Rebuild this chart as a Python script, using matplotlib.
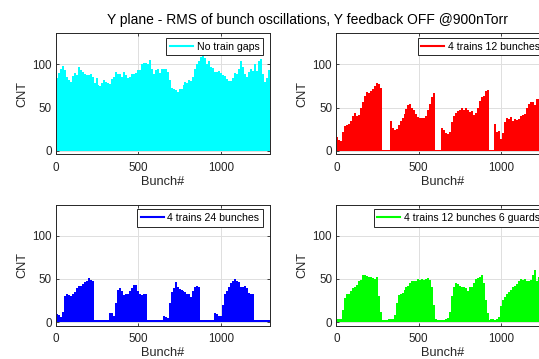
import matplotlib
matplotlib.use('Agg')
import matplotlib.pyplot as plt
from matplotlib.lines import Line2D
import numpy as np

plt.rcParams['font.family'] = ['Liberation Sans', 'DejaVu Sans']

# bunch bins (12 bunches per bin, 1296 bunches)
bin_width = 12
n_bunches = 1296
bin_start = np.arange(0, n_bunches, bin_width)

no_gaps = [84, 90, 95, 98, 93, 85, 82, 80, 87, 90,
           88, 97, 94, 91, 89, 88, 88, 89, 85, 78,
           84, 76, 75, 79, 82, 80, 78, 77, 83, 86,
           91, 89, 89, 86, 91, 88, 84, 86, 89, 89,
           90, 93, 94, 100, 102, 102, 100, 105, 95, 89,
           94, 95, 90, 95, 95, 95, 91, 82, 73, 72,
           70, 68, 72, 71, 76, 80, 78, 82, 81, 86,
           95, 100, 104, 109, 111, 108, 101, 104, 97, 96,
           91, 91, 92, 90, 88, 87, 83, 81, 81, 84,
           90, 89, 95, 104, 97, 89, 86, 91, 95, 92,
           100, 92, 104, 106, 89, 80, 84, 94]

trains12 = [16, 13, 11, 22, 29, 30, 31, 34, 40, 44, 40, 42, 50, 56, 63, 68, 67, 69, 72, 75, 79, 77, 73,
            1.5, 1.5, 1.5, 1.5,
            34, 27, 24, 25, 30, 35, 38, 43, 48, 53, 54, 50, 47, 43, 39, 38, 38, 38, 40, 47, 54, 62, 67,
            1.5, 1.5, 1.5,
            26, 24, 21, 19, 22, 33, 40, 44, 46, 47, 49, 47, 49, 47, 45, 46, 42, 44, 50, 58, 62, 64, 69, 70,
            1.5, 1.5, 1.5,
            31, 22, 23, 14, 21, 33, 38, 37, 39, 35, 37, 36, 37, 40, 41, 43, 49, 54, 56, 56, 53, 60, 60, 62,
            1.5, 1.5, 1.5, 1.5]

trains24 = [9, 8, 6, 12, 30, 33, 31, 30, 32, 35, 39, 42, 42, 44, 46, 47, 51, 49, 47,
            2, 2, 2, 2, 2, 2, 2, 2,
            11, 11, 7, 22, 37, 39, 36, 31, 33, 32, 36, 39, 43, 43, 36, 33, 31, 33, 33,
            2, 2, 2, 2, 2, 2, 2, 2,
            7, 6, 5, 22, 35, 39, 46, 41, 38, 37, 36, 35, 33, 32, 29, 36, 41, 42, 41,
            2, 2, 2, 2, 2, 2, 2,
            10, 9, 7, 7, 20, 32, 36, 41, 45, 48, 50, 48, 46, 41, 41, 42, 39, 34, 32, 33,
            2, 2, 2, 2, 2, 2, 2, 2]

trains12_guard = [4, 4, 3, 14, 28, 32, 33, 36, 39, 41, 43, 47, 49, 54, 55, 53, 52, 52, 51, 50, 52, 30, 12,
                  2, 2, 2,
                  4, 4, 3, 8, 22, 31, 33, 34, 37, 40, 42, 45, 47, 47, 48, 50, 49, 50, 49, 50, 51, 49, 40, 20, 4,
                  2.5, 2.5, 2.5, 2.5,
                  3, 4.5, 12, 30, 40, 45, 44, 42, 41, 40, 39, 36, 40, 40, 45, 50, 51, 52, 54, 45, 25, 10,
                  2.5, 3, 3, 2.5, 3,
                  6, 18, 26, 29, 32, 35, 37, 40, 42, 44, 48, 50, 49, 50, 47, 47, 49, 54, 60, 47, 52, 48, 30, 8, 3, 3]

series = [no_gaps, trains12, trains24, trains12_guard]
colors = ['#00ffff', '#ff0000', '#0000ff', '#00ff00']
labels = ['No train gaps', '4 trains 12 bunches', '4 trains 24 bunches', '4 trains 12 bunches 6 guards']

W, H = 539, 359
fig = plt.figure(figsize=(W / 100, H / 100), dpi=100)

# axes boxes in pixels: left, top, width, height
boxes = [(56, 33.3, 213.5, 121), (336.3, 33.3, 213.5, 121),
         (56, 204.5, 213.5, 121), (336.3, 204.5, 213.5, 121)]

dark = '#262626'
for vals, c, lab, (l, t, w, h) in zip(series, colors, labels, boxes):
    ax = fig.add_axes([l / W, 1 - (t + h) / H, w / W, h / H])
    ax.bar(bin_start, vals, width=bin_width, align='edge', color=c,
           linewidth=0, antialiased=False)
    ax.set_xlim(0, n_bunches)
    ax.set_ylim(-4, 136)
    ax.set_xticks([0, 500, 1000])
    ax.set_yticks([0, 50, 100])
    ax.grid(True, color='#dedede', lw=0.7)
    ax.set_axisbelow(True)
    ax.tick_params(direction='in', length=2.5, width=0.6, top=True, right=True,
                   labelsize=8.4, colors=dark)
    ax.tick_params(axis='x', pad=5.5)
    ax.tick_params(axis='y', pad=3)
    for sp in ax.spines.values():
        sp.set_color(dark)
        sp.set_linewidth(0.7)
    ax.set_xlabel('Bunch#', fontsize=9.2, color=dark, labelpad=1.5)
    ax.set_ylabel('CNT', fontsize=9.2, color=dark, labelpad=3)
    leg = ax.legend(handles=[Line2D([], [], color=c, lw=1.5)], labels=[lab],
                    loc='upper right', bbox_to_anchor=(1 - 6.5 / w, 1 - 4.7 / h),
                    borderaxespad=0, fontsize=7.6, fancybox=False, edgecolor=dark,
                    framealpha=1, handlelength=2.2, handletextpad=0.3, borderpad=0.35)
    leg.get_frame().set_linewidth(0.7)

fig.text(307.5 / W, 1 - 20 / H, 'Y plane - RMS of bunch oscillations, Y feedback OFF @900nTorr',
         ha='center', va='center', fontsize=10, color='k')

fig.savefig('out.png', dpi=100)
